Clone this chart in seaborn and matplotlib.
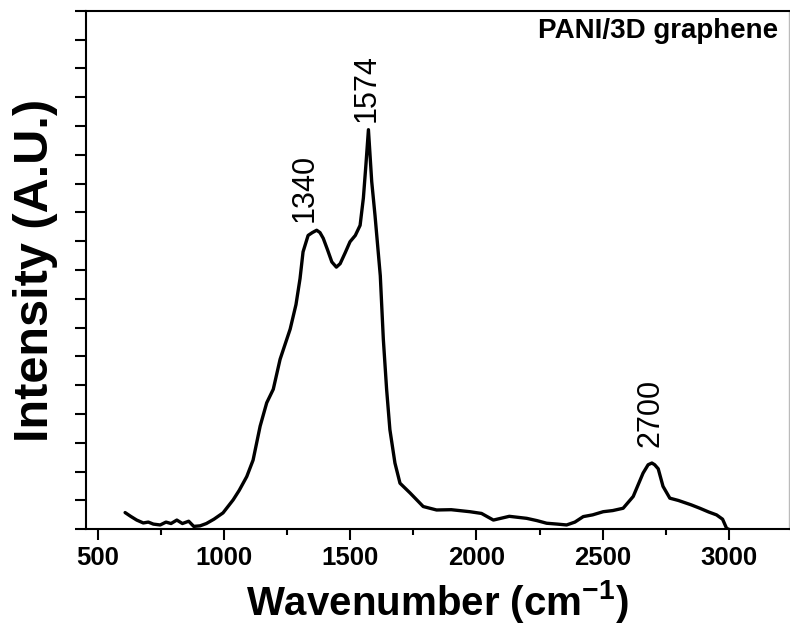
import matplotlib
matplotlib.use("Agg")
import matplotlib.pyplot as plt
import seaborn as sns
import pandas as pd
from matplotlib.ticker import MultipleLocator, NullFormatter

# Raman spectrum (intensity in arbitrary units)
wavenumber = [608, 630, 654, 680, 700, 720, 747, 770, 790, 813, 835, 860, 880, 905,
              930, 960, 996, 1036, 1060, 1090, 1115, 1143, 1169, 1195, 1222, 1262,
              1285, 1301, 1313, 1333, 1350, 1367, 1380, 1393, 1410, 1427, 1445, 1460,
              1480, 1499, 1520, 1539, 1552, 1562, 1572, 1585, 1598, 1619, 1631, 1644,
              1657, 1677, 1697, 1737, 1789, 1842, 1900, 1974, 2020, 2067, 2130, 2199,
              2240, 2278, 2320, 2357, 2390, 2423, 2460, 2502, 2540, 2581, 2621, 2660,
              2680, 2695, 2706, 2720, 2739, 2766, 2800, 2850, 2885, 2920, 2951, 2975,
              2991, 3000]
intensity = [0.58, 0.45, 0.32, 0.22, 0.25, 0.18, 0.15, 0.25, 0.2, 0.32, 0.2, 0.28, 0.1,
             0.12, 0.2, 0.35, 0.57, 1.02, 1.35, 1.83, 2.4, 3.58, 4.39, 4.86, 5.9, 6.95,
             7.8, 8.7, 9.63, 10.2, 10.3, 10.38, 10.3, 10.1, 9.7, 9.28, 9.1, 9.22, 9.6,
             9.98, 10.2, 10.55, 11.5, 12.65, 13.87, 12.07, 10.9, 8.8, 6.6, 4.86, 3.46,
             2.3, 1.6, 1.26, 0.79, 0.67, 0.68, 0.61, 0.55, 0.32, 0.45, 0.38, 0.3, 0.21,
             0.18, 0.15, 0.25, 0.44, 0.5, 0.61, 0.65, 0.73, 1.14, 1.95, 2.24, 2.3, 2.24,
             2.1, 1.49, 1.08, 1.0, 0.85, 0.73, 0.6, 0.5, 0.35, 0.03, 0.0]

peak_labels = ["1340", "1574", "2700"]
peak_x = [1321, 1563, 2690]
peak_y = [10.65, 14.15, 2.85]

sample_label = "PANI/3D graphene"
x_ticks = [500, 1000, 1500, 2000, 2500, 3000]

df = pd.DataFrame({"Wavenumber": wavenumber, "Intensity": intensity})

sns.set_style("ticks")
plt.rcParams["font.family"] = ["Liberation Sans", "DejaVu Sans"]
plt.rcParams["text.color"] = "black"
plt.rcParams["axes.labelcolor"] = "black"
plt.rcParams["xtick.color"] = "black"
plt.rcParams["ytick.color"] = "black"

fig = plt.figure(figsize=(7.9, 6.38), dpi=100)
ax = fig.add_axes([0.1085, 0.1704, 0.8902, 0.8128])

sns.lineplot(data=df, x="Wavenumber", y="Intensity", ax=ax, color="black",
             linewidth=2.4, sort=False)

ax.set_xlim(452, 3238)
ax.set_ylim(0, 18)
ax.set_xticks(x_ticks)
ax.set_xticklabels([str(t) for t in x_ticks], fontsize=18.5, fontweight="bold",
                   color="black")
ax.xaxis.set_minor_locator(MultipleLocator(250))
ax.yaxis.set_major_locator(MultipleLocator(1))
ax.yaxis.set_major_formatter(NullFormatter())

ax.tick_params(axis="both", which="major", direction="out", length=8, width=1.5,
               color="black", pad=4)
ax.tick_params(axis="x", which="minor", direction="out", length=4, width=1.5,
               color="black")

for side in ["left", "bottom", "top"]:
    ax.spines[side].set_linewidth(1.5)
    ax.spines[side].set_color("black")
ax.spines["right"].set_linewidth(1.0)
ax.spines["right"].set_color("#bbbbbb")

ax.set_xlabel("Wavenumber (cm$^{\\mathregular{-1}}$)", fontsize=29, fontweight="bold",
              labelpad=6, color="black")
ax.set_ylabel("Intensity (A.U.)", fontsize=35, fontweight="bold", labelpad=8,
              color="black")

for lab, px, py in zip(peak_labels, peak_x, peak_y):
    ax.text(px, py, lab, rotation=90, ha="center", va="bottom", fontsize=22,
            color="black")

ax.text(0.985, 0.985, sample_label, transform=ax.transAxes, ha="right", va="top",
        fontsize=20, fontweight="bold", color="black")

fig.savefig("out.png", dpi=100)
